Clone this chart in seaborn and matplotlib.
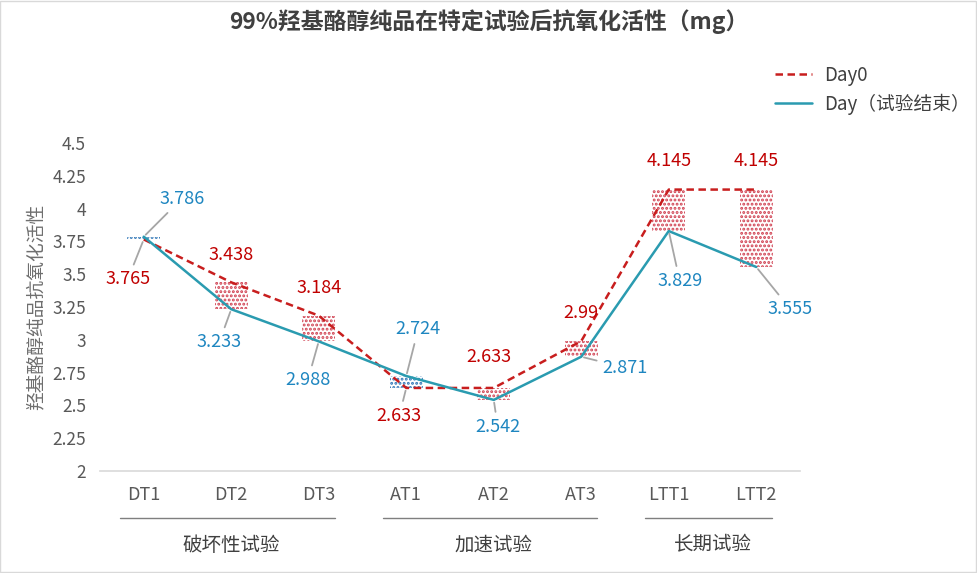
import numpy as np
import pandas as pd
import matplotlib
matplotlib.use('Agg')
import matplotlib.pyplot as plt
import matplotlib.transforms as mtransforms
from matplotlib.patches import Rectangle
import seaborn as sns

# 数据
categories = ['DT1', 'DT2', 'DT3', 'AT1', 'AT2', 'AT3', 'LTT1', 'LTT2']
day0 = [3.765, 3.438, 3.184, 2.633, 2.633, 2.99, 4.145, 4.145]
day_end = [3.786, 3.233, 2.988, 2.724, 2.542, 2.871, 3.829, 3.555]
series_names = ['Day0', 'Day（试验结束）']
groups = ['破坏性试验', '加速试验', '长期试验']
group_members = [[0, 1, 2], [3, 4, 5], [6, 7]]
yticks = [2, 2.25, 2.5, 2.75, 3, 3.25, 3.5, 3.75, 4, 4.25, 4.5]

# 标签位置偏移（像素）及是否显示引导线
day0_offsets = [(-16, -40), (0, 27), (0, 28), (-7, -28), (-5, 31), (0, 28), (0, 29), (0, 29)]
day0_leader = [True, False, False, True, False, False, False, False]
day_offsets = [(38, 38), (-12, -33), (-11, -39), (12, 47), (4, -27), (44, -11), (11, -50), (34, -42)]

RED = '#C81E1E'
RED_TXT = '#C00000'
TEAL = '#2A9BB0'
BLUE_TXT = '#1E86C0'
GRAY = '#595959'

sns.set_theme(style='white')
plt.rcParams['font.family'] = ['Noto Sans CJK SC', 'DejaVu Sans']
plt.rcParams['hatch.linewidth'] = 1.4

x = np.arange(len(categories))
df = pd.DataFrame({
    'x': np.concatenate([x, x]),
    'value': day0 + day_end,
    'series': [series_names[0]] * len(x) + [series_names[1]] * len(x),
})

fig = plt.figure(figsize=(9.77, 5.73), dpi=100)
ax = fig.add_axes([100 / 977, 102 / 573, 700 / 977, 328 / 573])

# 涨跌柱（阴影）
lo = np.minimum(day0, day_end)
hi = np.maximum(day0, day_end)
for i in range(len(x)):
    c = '#D04050' if day0[i] > day_end[i] else '#2E75B6'
    h = max(hi[i] - lo[i], 0.012)
    b = lo[i] if hi[i] - lo[i] > 0.012 else lo[i] - 0.006
    ax.bar(x[i], h, bottom=b, width=0.38, facecolor='white',
           edgecolor=c, hatch='....', linewidth=0, zorder=2)

sns.lineplot(data=df, x='x', y='value', hue='series', style='series',
             palette=[RED, TEAL], dashes=[(3, 1.8), ''],
             linewidth=1.8, ax=ax, legend=True, zorder=3)

# 数据标签
for i in range(len(x)):
    ax.annotate(f'{day0[i]:g}', (x[i], day0[i]), xytext=day0_offsets[i],
                textcoords='offset pixels', ha='center', va='center',
                fontsize=13, color=RED_TXT, zorder=5,
                arrowprops=dict(arrowstyle='-', color='#A6A6A6', lw=1.3,
                                shrinkA=2, shrinkB=2) if day0_leader[i] else None)
    ax.annotate(f'{day_end[i]:g}', (x[i], day_end[i]), xytext=day_offsets[i],
                textcoords='offset pixels', ha='center', va='center',
                fontsize=13, color=BLUE_TXT, zorder=5,
                arrowprops=dict(arrowstyle='-', color='#A6A6A6', lw=1.3,
                                shrinkA=2, shrinkB=2))

ax.set_xlim(-0.5, len(x) - 0.5)
ax.set_ylim(2, 4.5)
ax.set_xticks(x)
ax.set_xticklabels(categories, fontsize=13, color=GRAY)
ax.set_yticks(yticks)
ax.set_yticklabels([f'{t:g}' for t in yticks], fontsize=12.5, color=GRAY)
ax.tick_params(axis='both', length=0, pad=10)
ax.tick_params(axis='x', pad=11)
ax.set_xlabel('')
ax.set_ylabel('羟基酪醇纯品抗氧化活性', fontsize=13.5, color='#6E6E6E', labelpad=4)
for s in ['top', 'right', 'left']:
    ax.spines[s].set_visible(False)
ax.spines['bottom'].set_color('#D9D9D9')
ax.spines['bottom'].set_linewidth(1.2)

# 分组标签
trans = mtransforms.blended_transform_factory(ax.transData, ax.transAxes)
for name, mem in zip(groups, group_members):
    ax.plot([mem[0] - 0.27, mem[-1] + 0.18], [-0.143, -0.143], color='#7F7F7F',
            lw=1, transform=trans, clip_on=False)
    ax.text(np.mean(mem), -0.226, name, transform=trans, ha='center', va='center',
            fontsize=14, color='#404040')

# 图例
handles, labels = ax.get_legend_handles_labels()
ax.legend(handles, labels, loc='upper left', bbox_to_anchor=(758 / 977, 1 - 48 / 573),
          bbox_transform=fig.transFigure, frameon=False, fontsize=13.5,
          handlelength=2.0, handletextpad=0.6, labelcolor='#404040', labelspacing=0.4)

fig.suptitle('99%羟基酪醇纯品在特定试验后抗氧化活性（mg）', x=0.5, y=1 - 22 / 573,
             va='center', fontsize=16.5, fontweight='bold', color='#404040')

fig.add_artist(Rectangle((0.0005, 0.001), 0.998, 0.997, transform=fig.transFigure,
                         fill=False, edgecolor='#D9D9D9', lw=1))

fig.savefig('out.png', dpi=100)
